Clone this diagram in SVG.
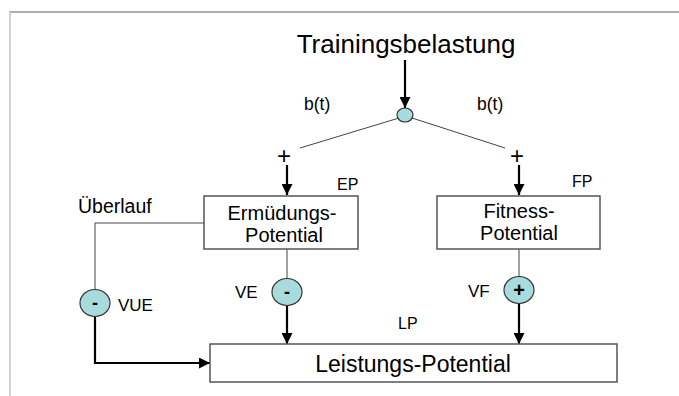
<svg xmlns="http://www.w3.org/2000/svg" width="679" height="396" viewBox="0 0 679 396">
<defs>
<style>
text{font-family:"Liberation Sans",Arial,sans-serif;fill:#000}
.box{fill:#fff;stroke:#555;stroke-width:1.5}
.node{fill:#a8dcdc;stroke:#333;stroke-width:1.2}
.thin{stroke:#444;stroke-width:1;fill:none}
.thick{stroke:#000;stroke-width:2.2;fill:none}
</style>
<marker id="ah" viewBox="0 0 10 10" refX="10" refY="5" markerWidth="5" markerHeight="5" orient="auto" markerUnits="strokeWidth">
<path d="M0,0 L10,5 L0,10 z" fill="#000"/>
</marker>
</defs>
<rect x="0" y="0" width="679" height="396" fill="#fff"/>
<line x1="9" y1="12" x2="679" y2="12" stroke="#b0b0b0" stroke-width="2"/>
<line x1="10" y1="12" x2="10" y2="396" stroke="#d2d2d2" stroke-width="2"/>

<g id="connectors">
<line class="thick" x1="405" y1="60" x2="405" y2="108" marker-end="url(#ah)"/>
<line class="thin" x1="399" y1="118" x2="300" y2="148"/>
<line class="thin" x1="412" y1="118" x2="505" y2="148"/>
<line class="thick" x1="287" y1="165" x2="287" y2="195" marker-end="url(#ah)"/>
<line class="thick" x1="519" y1="165" x2="519" y2="195" marker-end="url(#ah)"/>
<polyline class="thin" points="204,223 95,223 95,290"/>
<line class="thin" x1="287" y1="249" x2="287" y2="279"/>
<line class="thin" x1="519" y1="249" x2="519" y2="277"/>
<line class="thick" x1="287" y1="306" x2="287" y2="344" marker-end="url(#ah)"/>
<line class="thick" x1="519" y1="304" x2="519" y2="344" marker-end="url(#ah)"/>
<polyline class="thick" points="95,316 95,363 210,363" marker-end="url(#ah)"/>
</g>

<g id="training">
<text x="406" y="53" font-size="26" text-anchor="middle">Trainingsbelastung</text>
</g>
<g id="split">
<ellipse class="node" cx="405" cy="115" rx="8" ry="7"/>
</g>
<g id="labels">
<text x="304" y="110" font-size="17.5">b(t)</text>
<text x="477" y="110" font-size="17.5">b(t)</text>
<text x="284" y="164" font-size="24" text-anchor="middle">+</text>
<text x="517" y="164" font-size="24" text-anchor="middle">+</text>
<text x="78" y="213" font-size="19.5">Überlauf</text>
<text x="337" y="190" font-size="16">EP</text>
<text x="572" y="187" font-size="16">FP</text>
<text x="398" y="329" font-size="16">LP</text>
<text x="235" y="298" font-size="17">VE</text>
<text x="468" y="297" font-size="17">VF</text>
<text x="118" y="311" font-size="17">VUE</text>
</g>
<g id="ermuedung">
<rect class="box" x="204" y="196" width="154" height="53"/>
<text x="282" y="220" font-size="20" text-anchor="middle">Ermüdungs-</text>
<text x="284" y="242" font-size="20" text-anchor="middle">Potential</text>
</g>
<g id="fitness">
<rect class="box" x="437" y="196" width="163" height="53"/>
<text x="519" y="218" font-size="20" text-anchor="middle">Fitness-</text>
<text x="519" y="240" font-size="20" text-anchor="middle">Potential</text>
</g>
<g id="leistung">
<rect class="box" x="210" y="344" width="407" height="38"/>
<text x="413" y="372" font-size="23" text-anchor="middle">Leistungs-Potential</text>
</g>
<g id="ve">
<ellipse class="node" cx="287" cy="292" rx="15" ry="13.5"/>
<text x="287" y="298" font-size="18" font-weight="bold" text-anchor="middle">-</text>
</g>
<g id="vf">
<ellipse class="node" cx="519" cy="290" rx="15" ry="13.5"/>
<text x="519" y="297" font-size="20" font-weight="bold" text-anchor="middle">+</text>
</g>
<g id="vue">
<ellipse class="node" cx="95" cy="303" rx="15" ry="13.5"/>
<text x="95" y="309" font-size="18" font-weight="bold" text-anchor="middle">-</text>
</g>
</svg>
